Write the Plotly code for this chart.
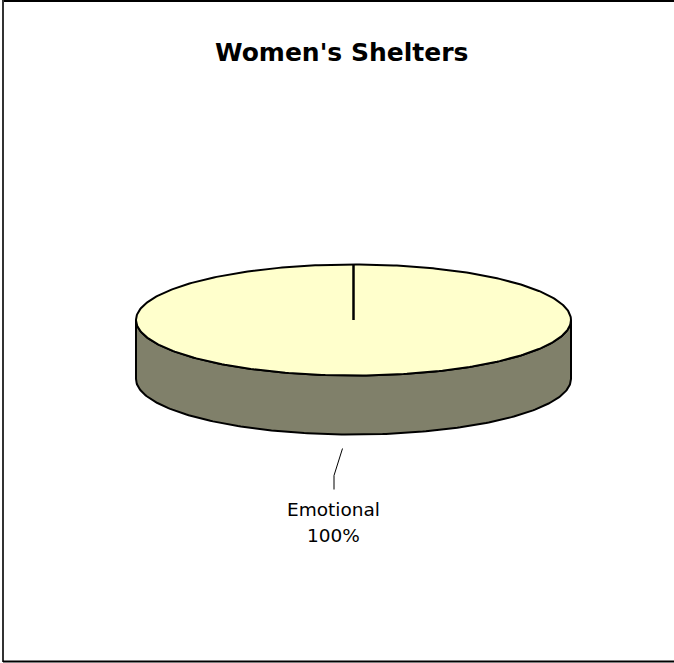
import numpy as np
import plotly.graph_objects as go

# ---- data ----
title_text = "Women's Shelters"
categories = ["Emotional"]
values = [100]

# ---- style / geometry (pixels) ----
W, H = 674, 663
cx, cy = 353.5, 320.0      # centre of top face
rx, ry = 217.5, 55.5       # ellipse radii
depth = 59.0               # pie thickness
top_color = "#FFFFCC"
side_color = "#80806A"
edge = dict(color="black", width=2)

fig = go.Figure()

def ell(t, dy=0.0):
    return cx + rx * np.cos(t), cy + dy + ry * np.sin(t)

# side wall (front half of the pie)
t1 = np.linspace(0, np.pi, 200)
xa, ya = ell(t1)
xb, yb = ell(t1[::-1], depth)
fig.add_trace(go.Scatter(x=np.r_[xa, xb, xa[:1]], y=np.r_[ya, yb, ya[:1]],
                         mode="lines", fill="toself", fillcolor=side_color,
                         line=edge, hoverinfo="skip", showlegend=False))

# top face
t2 = np.linspace(0, 2 * np.pi, 400)
xt, yt = ell(t2)
fig.add_trace(go.Scatter(x=xt, y=yt, mode="lines", fill="toself",
                         fillcolor=top_color, line=edge,
                         hoverinfo="skip", showlegend=False))

# slice boundaries (start at 12 o'clock, clockwise)
total = float(sum(values))
start = -np.pi / 2
angles = [start]
for v in values:
    angles.append(angles[-1] + 2 * np.pi * v / total)
for a in angles[:-1]:
    ex, ey = ell(a)
    fig.add_trace(go.Scatter(x=[cx, ex], y=[cy, ey], mode="lines",
                             line=dict(color="black", width=2.5),
                             hoverinfo="skip", showlegend=False))

# labels with leader lines
for i, (cat, v) in enumerate(zip(categories, values)):
    mid = (angles[i] + angles[i + 1]) / 2
    px, py = ell(mid, depth)
    lx = [px - 11, px - 19.5, px - 19.5]
    ly = [py + 14, py + 41, py + 55]
    fig.add_trace(go.Scatter(x=lx, y=ly, mode="lines",
                             line=dict(color="black", width=1),
                             hoverinfo="skip", showlegend=False))
    fig.add_annotation(x=px - 20, y=py + 75, text=cat, showarrow=False,
                       xanchor="center", yanchor="middle",
                       font=dict(family="DejaVu Sans", size=18.5, color="black"))
    fig.add_annotation(x=px - 20, y=py + 101, text=f"{v / total * 100:.0f}%",
                       showarrow=False, xanchor="center", yanchor="middle",
                       font=dict(family="DejaVu Sans", size=18.5, color="black"))

# title
fig.add_annotation(x=341, y=52, text=f"<b>{title_text}</b>", showarrow=False,
                   xanchor="center", yanchor="middle",
                   font=dict(family="DejaVu Sans", size=25, color="black"))

# chart-area border (left, top, bottom)
fig.add_shape(type="line", x0=3, x1=W, y0=1, y1=1, line=dict(color="black", width=2))
fig.add_shape(type="line", x0=3, x1=3, y0=0, y1=662, line=dict(color="#333333", width=2))
fig.add_shape(type="line", x0=3, x1=W, y0=661.5, y1=661.5, line=dict(color="black", width=2))

fig.update_xaxes(range=[0, W], visible=False, fixedrange=True)
fig.update_yaxes(range=[H, 0], visible=False, fixedrange=True)
fig.update_layout(width=W, height=H, margin=dict(l=0, r=0, t=0, b=0),
                  paper_bgcolor="white", plot_bgcolor="white", showlegend=False)

fig.write_html("out.html")
